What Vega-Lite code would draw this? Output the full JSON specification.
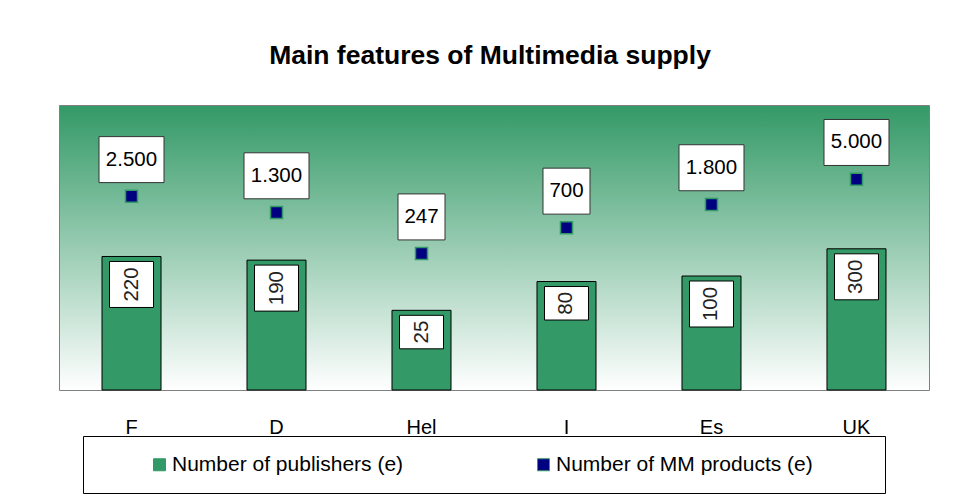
{
  "$schema": "https://vega.github.io/schema/vega-lite/v6.json",
  "width": 870,
  "height": 285,
  "autosize": "none",
  "padding": {"left": 59, "top": 105, "right": 30, "bottom": 105},
  "background": "white",
  "title": {"text": "Main features of Multimedia supply", "font": "Liberation Sans", "fontSize": 26.5, "fontWeight": "bold", "color": "#000000", "anchor": "middle", "offset": 36, "dx": -4},
  "config": {
    "font": "Liberation Sans",
    "locale": {"number": {"decimal": ",", "thousands": ".", "grouping": [3], "currency": ["", " €"]}},
    "view": {
      "stroke": "#808080",
      "strokeWidth": 1,
      "fill": {"gradient": "linear", "x1": 0, "y1": 0, "x2": 0, "y2": 1, "stops": [{"offset": 0, "color": "#339966"}, {"offset": 1, "color": "#ffffff"}]}
    }
  },
  "data": {"values": [
    {"country": "F", "publishers": 220, "products": 2500},
    {"country": "D", "publishers": 190, "products": 1300},
    {"country": "Hel", "publishers": 25, "products": 247},
    {"country": "I", "publishers": 80, "products": 700},
    {"country": "Es", "publishers": 100, "products": 1800},
    {"country": "UK", "publishers": 300, "products": 5000}
  ]},
  "encoding": {
    "x": {
      "field": "country", "type": "nominal", "sort": null,
      "scale": {"paddingInner": 0.593, "paddingOuter": 0.2966},
      "axis": {"title": null, "domain": false, "ticks": false, "tickSize": 0, "labelAngle": 0, "labelFontSize": 20, "labelColor": "#000000", "labelPadding": 27.5, "labelBaseline": "top", "grid": false}
    }
  },
  "layer": [
    {
      "mark": {"type": "bar", "stroke": "#000000", "strokeWidth": 1},
      "encoding": {
        "y": {"field": "publishers", "type": "quantitative", "scale": {"type": "log", "domain": [1, 100000]}, "axis": null},
        "y2": {"datum": 1},
        "color": {
          "datum": "Number of publishers (e)", "type": "nominal",
          "scale": {"domain": ["Number of publishers (e)", "Number of MM products (e)"], "range": ["#339966", "#000080"]},
          "legend": {
            "orient": "none", "legendX": 24, "legendY": 331, "direction": "horizontal",
            "title": " ", "titleOrient": "right", "titlePadding": 54, "titleFontSize": 21,
            "padding": 18, "strokeColor": "#000000", "fillColor": "#ffffff",
            "symbolType": "square", "symbolSize": 144, "symbolStrokeWidth": 1, "symbolStrokeColor": "#222222", "symbolOpacity": 1,
            "symbolOffset": 48, "labelOffset": 2, "columnPadding": 81,
            "labelFontSize": 21, "labelColor": "#000000", "labelLimit": 400
          }
        }
      }
    },
    {
      "transform": [{"filter": "datum.publishers >= 100"}],
      "layer": [
        {
          "mark": {"type": "bar", "width": 44, "fill": "#ffffff", "stroke": "#000000", "strokeWidth": 1, "yOffset": 5, "y2Offset": 51},
          "encoding": {
            "y": {"field": "publishers", "type": "quantitative", "scale": {"type": "log", "domain": [1, 100000]}, "axis": null},
            "y2": {"field": "publishers"}
          }
        },
        {
          "mark": {"type": "text", "angle": 270, "fontSize": 20.5, "align": "center", "baseline": "middle", "yOffset": 28, "color": "#222222"},
          "encoding": {
            "y": {"field": "publishers", "type": "quantitative", "scale": {"type": "log", "domain": [1, 100000]}, "axis": null},
            "text": {"field": "publishers", "type": "quantitative", "format": "d"}
          }
        }
      ]
    },
    {
      "transform": [{"filter": "datum.publishers < 100"}],
      "layer": [
        {
          "mark": {"type": "bar", "width": 44, "fill": "#ffffff", "stroke": "#000000", "strokeWidth": 1, "yOffset": 5, "y2Offset": 38.5},
          "encoding": {
            "y": {"field": "publishers", "type": "quantitative", "scale": {"type": "log", "domain": [1, 100000]}, "axis": null},
            "y2": {"field": "publishers"}
          }
        },
        {
          "mark": {"type": "text", "angle": 270, "fontSize": 20.5, "align": "center", "baseline": "middle", "yOffset": 21.7, "color": "#222222"},
          "encoding": {
            "y": {"field": "publishers", "type": "quantitative", "scale": {"type": "log", "domain": [1, 100000]}, "axis": null},
            "text": {"field": "publishers", "type": "quantitative", "format": "d"}
          }
        }
      ]
    },
    {
      "mark": {"type": "point", "shape": "square", "filled": true, "size": 144, "stroke": "#339966", "strokeWidth": 1.5, "opacity": 1},
      "encoding": {
        "y": {"field": "products", "type": "quantitative", "scale": {"type": "log", "domain": [1, 100000]}, "axis": null},
        "color": {"datum": "Number of MM products (e)", "type": "nominal"}
      }
    },
    {
      "transform": [{"filter": "datum.products >= 1000"}],
      "mark": {"type": "bar", "width": 65, "fill": "#ffffff", "stroke": "#333333", "strokeWidth": 1, "yOffset": -59.7, "y2Offset": -13.7},
      "encoding": {
        "y": {"field": "products", "type": "quantitative", "scale": {"type": "log", "domain": [1, 100000]}, "axis": null},
        "y2": {"field": "products"}
      }
    },
    {
      "transform": [{"filter": "datum.products < 1000"}],
      "mark": {"type": "bar", "width": 47, "fill": "#ffffff", "stroke": "#333333", "strokeWidth": 1, "yOffset": -59.7, "y2Offset": -13.7},
      "encoding": {
        "y": {"field": "products", "type": "quantitative", "scale": {"type": "log", "domain": [1, 100000]}, "axis": null},
        "y2": {"field": "products"}
      }
    },
    {
      "mark": {"type": "text", "fontSize": 20.5, "align": "center", "baseline": "middle", "yOffset": -36.7, "color": "#000000"},
      "encoding": {
        "y": {"field": "products", "type": "quantitative", "scale": {"type": "log", "domain": [1, 100000]}, "axis": null},
        "text": {"field": "products", "type": "quantitative", "format": ",d"}
      }
    }
  ]
}
